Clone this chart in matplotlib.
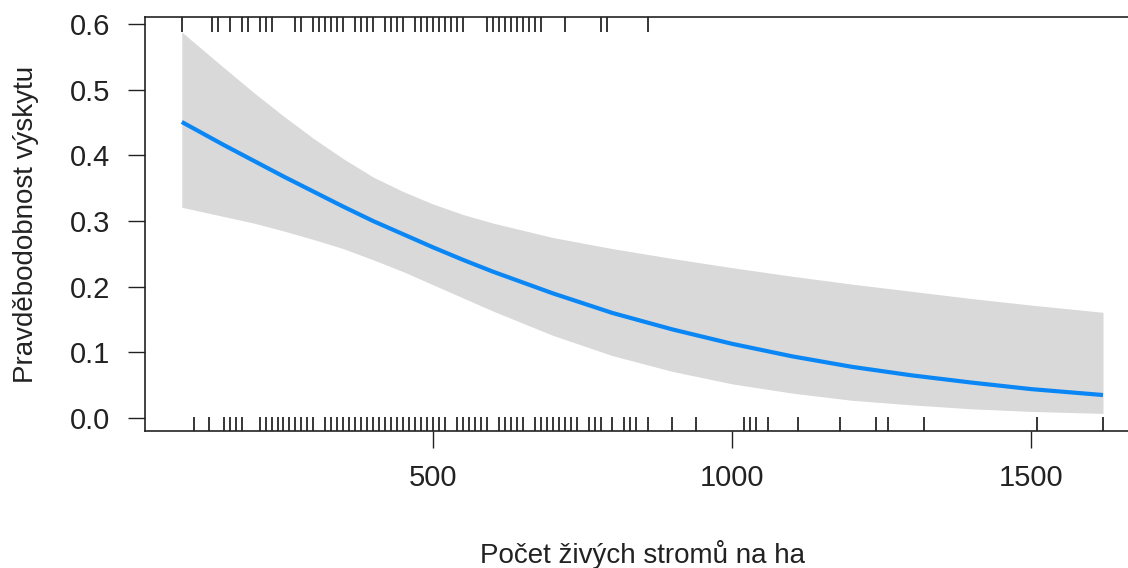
import numpy as np
import matplotlib.pyplot as plt

plt.rcParams['font.family'] = ['Liberation Sans', 'DejaVu Sans']

# fitted curve and confidence band
x_fit = [80, 150, 200, 250, 300, 350, 400, 450, 500, 550, 600, 700, 800, 900, 1000,
         1100, 1200, 1300, 1400, 1500, 1620]
p_fit = [0.451, 0.416, 0.392, 0.368, 0.345, 0.322, 0.300, 0.280, 0.260, 0.241, 0.223,
         0.190, 0.160, 0.135, 0.113, 0.094, 0.078, 0.065, 0.054, 0.044, 0.035]
p_upper = [0.588, 0.534, 0.496, 0.460, 0.426, 0.395, 0.367, 0.345, 0.326, 0.310, 0.297,
           0.275, 0.258, 0.243, 0.229, 0.216, 0.204, 0.193, 0.182, 0.172, 0.161]
p_lower = [0.321, 0.307, 0.297, 0.285, 0.272, 0.258, 0.241, 0.223, 0.203, 0.183, 0.163,
           0.126, 0.095, 0.071, 0.052, 0.038, 0.027, 0.020, 0.014, 0.010, 0.007]

# rug: plots with presence (top) and absence (bottom)
rug_top = [80, 130, 140, 160, 180, 190, 210, 220, 230, 270, 280, 300, 310, 320, 330, 340, 350,
           370, 380, 390, 400, 420, 430, 440, 450, 470, 480, 490, 500, 510, 520, 530, 540, 550,
           590, 600, 610, 620, 630, 640, 650, 660, 670, 680, 720, 780, 790, 860]
rug_bottom = [100, 125, 150, 160, 170, 180, 210, 220, 230, 240, 250, 260, 270, 280, 290, 300,
              320, 330, 340, 350, 360, 370, 380, 390, 400, 410, 420, 430, 440, 450, 460, 470,
              480, 490, 500, 510, 520, 540, 550, 560, 570, 580, 590, 610, 620, 630, 640, 650,
              670, 680, 690, 700, 710, 720, 730, 740, 760, 770, 780, 800, 820, 830, 840, 860,
              900, 940, 1020, 1030, 1040, 1060, 1110, 1180, 1240, 1260, 1320, 1510, 1620]

fig = plt.figure(figsize=(11.28, 5.68), dpi=100)
ax = fig.add_axes([0.1285, 0.2412, 0.882, 0.729])

ax.fill_between(x_fit, p_lower, p_upper, color="#D9D9D9", linewidth=0)
ax.plot(x_fit, p_fit, color="#0A87F5", linewidth=3, solid_capstyle="butt")

ax.vlines(rug_bottom, 0, 0.034, transform=ax.get_xaxis_transform(), color="black", linewidth=1.1)
ax.vlines(rug_top, 1 - 0.036, 1, transform=ax.get_xaxis_transform(), color="black", linewidth=1.1)

ax.set_xlim(18.4, 1681.6)
ax.set_ylim(-0.0198, 0.611)
ax.set_xticks([500, 1000, 1500])
ax.set_yticks([0.0, 0.1, 0.2, 0.3, 0.4, 0.5, 0.6])
ax.set_yticklabels(["0.0", "0.1", "0.2", "0.3", "0.4", "0.5", "0.6"])

for s in ["left", "top", "bottom"]:
    ax.spines[s].set_linewidth(1.2)
    ax.spines[s].set_color("#222222")
ax.spines["right"].set_visible(False)

ax.tick_params(axis="both", direction="out", length=12, width=1.0, color="#222222",
               labelsize=21, labelcolor="#222222")
ax.tick_params(axis="y", pad=13)
ax.tick_params(axis="x", pad=12)

ax.set_xlabel("Počet živých stromů na ha", fontsize=20, color="#222222", labelpad=34)
ax.set_ylabel("Pravděbodobnost výskytu", fontsize=20, color="#222222", labelpad=22)

fig.savefig("out.png", dpi=100)
